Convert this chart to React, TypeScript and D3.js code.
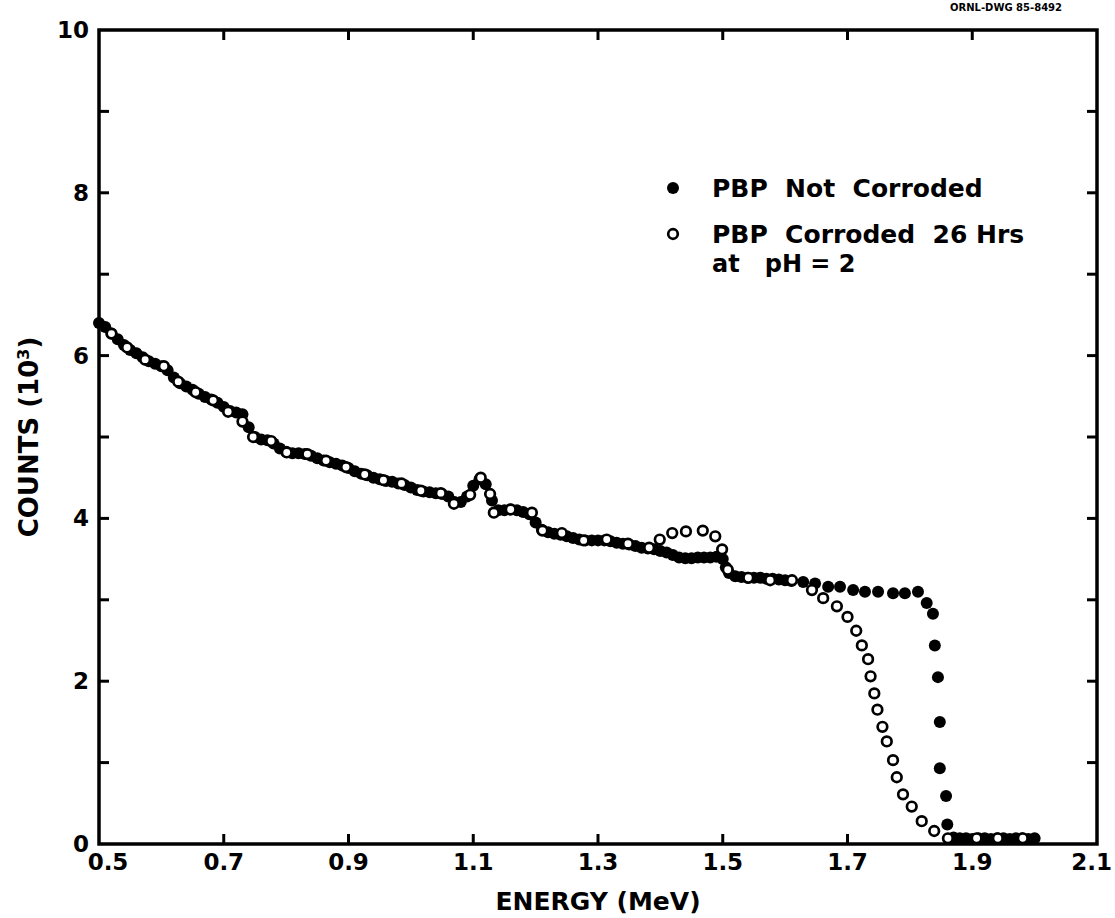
import React from "react";
import * as d3 from "d3";

// ---- data ----
const xTickValues = [0.5, 0.7, 0.9, 1.1, 1.3, 1.5, 1.7, 1.9, 2.1];
const xTickLabels = ["0.5", "0.7", "0.9", "1.1", "1.3", "1.5", "1.7", "1.9", "2.1"];
const yTickValues = [0, 1, 2, 3, 4, 5, 6, 7, 8, 9, 10];
const yTickLabels = ["0", "", "2", "", "4", "", "6", "", "8", "", "10"];

// PBP Not Corroded (filled circles): [energy MeV, counts 10^3]
const notCorroded: [number, number][] = [
  [0.50, 6.40], [0.51, 6.35], [0.52, 6.27], [0.53, 6.20], [0.54, 6.13], [0.55, 6.07],
  [0.56, 6.03], [0.57, 5.98], [0.58, 5.93], [0.59, 5.90], [0.60, 5.87], [0.61, 5.82],
  [0.62, 5.73], [0.63, 5.66], [0.64, 5.62], [0.65, 5.58], [0.66, 5.53], [0.67, 5.49],
  [0.68, 5.46], [0.69, 5.42], [0.70, 5.37], [0.71, 5.32], [0.72, 5.30], [0.73, 5.28],
  [0.74, 5.12], [0.75, 5.00], [0.76, 4.97], [0.77, 4.96], [0.78, 4.92], [0.79, 4.86],
  [0.80, 4.82], [0.81, 4.80], [0.82, 4.80], [0.83, 4.79], [0.84, 4.77], [0.85, 4.74],
  [0.86, 4.71], [0.87, 4.69], [0.88, 4.67], [0.89, 4.65], [0.90, 4.62], [0.91, 4.58],
  [0.92, 4.55], [0.93, 4.53], [0.94, 4.50], [0.95, 4.48], [0.96, 4.46], [0.97, 4.45],
  [0.98, 4.43], [0.99, 4.41], [1.00, 4.38], [1.01, 4.35], [1.02, 4.33], [1.03, 4.32],
  [1.04, 4.31], [1.05, 4.30], [1.06, 4.27], [1.07, 4.20], [1.08, 4.20], [1.09, 4.27],
  [1.10, 4.40], [1.11, 4.48], [1.12, 4.42], [1.13, 4.22], [1.14, 4.10], [1.15, 4.10],
  [1.16, 4.11], [1.17, 4.10], [1.18, 4.08], [1.19, 4.05], [1.20, 3.95], [1.21, 3.86],
  [1.22, 3.83], [1.23, 3.81], [1.24, 3.80], [1.25, 3.78], [1.26, 3.76], [1.27, 3.74],
  [1.28, 3.73], [1.29, 3.73], [1.30, 3.73], [1.31, 3.73], [1.32, 3.72], [1.33, 3.70],
  [1.34, 3.69], [1.35, 3.68], [1.36, 3.66], [1.37, 3.64], [1.38, 3.63], [1.39, 3.62],
  [1.40, 3.60], [1.41, 3.58], [1.42, 3.55], [1.43, 3.52], [1.44, 3.51], [1.45, 3.51],
  [1.46, 3.52], [1.47, 3.52], [1.48, 3.52], [1.49, 3.53], [1.50, 3.50], [1.505, 3.40],
  [1.51, 3.33], [1.52, 3.29], [1.53, 3.28], [1.54, 3.27], [1.55, 3.27], [1.56, 3.27],
  [1.57, 3.26], [1.58, 3.26], [1.59, 3.25], [1.60, 3.24], [1.61, 3.23],
  [1.629, 3.22], [1.648, 3.20], [1.669, 3.16], [1.688, 3.16], [1.709, 3.12],
  [1.728, 3.10], [1.749, 3.10], [1.773, 3.08], [1.792, 3.08], [1.813, 3.10],
  [1.827, 2.96], [1.837, 2.83], [1.840, 2.44], [1.845, 2.05], [1.848, 1.50],
  [1.848, 0.93], [1.858, 0.59], [1.860, 0.24],
  [1.87, 0.08], [1.88, 0.07], [1.89, 0.07], [1.90, 0.06], [1.91, 0.07], [1.92, 0.07],
  [1.93, 0.06], [1.94, 0.07], [1.95, 0.07], [1.96, 0.06], [1.97, 0.07], [1.98, 0.07],
  [1.99, 0.06], [2.00, 0.07],
];

// PBP Corroded 26 Hrs at pH = 2 (open circles)
const corroded: [number, number][] = [
  [0.520, 6.27], [0.545, 6.10], [0.574, 5.95], [0.604, 5.87], [0.627, 5.68], [0.655, 5.55],
  [0.683, 5.45], [0.707, 5.31], [0.730, 5.19], [0.747, 5.00], [0.776, 4.95], [0.801, 4.81],
  [0.834, 4.79], [0.864, 4.71], [0.896, 4.63], [0.926, 4.54], [0.956, 4.47], [0.985, 4.43],
  [1.016, 4.34], [1.048, 4.31], [1.069, 4.18], [1.095, 4.29], [1.112, 4.50], [1.127, 4.30],
  [1.133, 4.07], [1.160, 4.11], [1.194, 4.07], [1.211, 3.85], [1.242, 3.82], [1.277, 3.73],
  [1.314, 3.74], [1.348, 3.69], [1.382, 3.64], [1.399, 3.74], [1.419, 3.82], [1.441, 3.84],
  [1.468, 3.85], [1.488, 3.78], [1.499, 3.62], [1.508, 3.37], [1.541, 3.27], [1.576, 3.24],
  [1.611, 3.24], [1.643, 3.12], [1.661, 3.02], [1.683, 2.92], [1.700, 2.79], [1.714, 2.62],
  [1.723, 2.44], [1.733, 2.27], [1.737, 2.06], [1.743, 1.85], [1.748, 1.65], [1.756, 1.44],
  [1.763, 1.26], [1.773, 1.03], [1.779, 0.82], [1.789, 0.61], [1.803, 0.46], [1.819, 0.28],
  [1.839, 0.16], [1.861, 0.07], [1.907, 0.07], [1.941, 0.07], [1.981, 0.07],
];

const legendLine1 = "PBP  Not  Corroded";
const legendLine2 = "PBP  Corroded  26 Hrs";
const legendLine3 = "at   pH = 2";
const drawingNumber = "ORNL-DWG 85-8492";

const FONT = "'DejaVu Sans', sans-serif";

export default function App() {
  const W = 1115;
  const H = 918;
  const x = d3.scaleLinear().domain([0.5, 2.1]).range([99, 1097]);
  const y = d3.scaleLinear().domain([0, 10]).range([844, 30]);
  const [x0, x1] = x.range();
  const [yb, yt] = y.range();
  const tickLen = 10;
  const axisW = 3.5;
  const last = xTickValues.length - 1;

  return (
    <svg
      width={W}
      height={H}
      viewBox={`0 0 ${W} ${H}`}
      style={{ position: "absolute", left: 0, top: 0, background: "#fff" }}
      fontFamily={FONT}
    >
      <rect x={0} y={0} width={W} height={H} fill="#fff" />
      <text x={950} y={11} fontSize={10} fontWeight="bold" fill="#000">
        {drawingNumber}
      </text>

      {/* frame */}
      <rect
        x={x0}
        y={yt}
        width={x1 - x0}
        height={yb - yt}
        fill="none"
        stroke="#000"
        strokeWidth={axisW}
      />

      {/* x ticks bottom & top */}
      {xTickValues.slice(1, -1).map((v) => (
        <g key={"xt" + v}>
          <line x1={x(v)} x2={x(v)} y1={yb} y2={yb - tickLen} stroke="#000" strokeWidth={3} />
          <line x1={x(v)} x2={x(v)} y1={yt} y2={yt + tickLen} stroke="#000" strokeWidth={3} />
        </g>
      ))}
      {xTickValues.map((v, i) => (
        <text
          key={"xl" + v}
          x={i === last ? W - 3 : x(v) + (i === 0 ? 9 : 0)}
          y={yb + 26}
          fontSize={23}
          fontWeight="bold"
          textAnchor={i === last ? "end" : "middle"}
          fill="#000"
        >
          {xTickLabels[i]}
        </text>
      ))}

      {/* y ticks left & right */}
      {yTickValues.slice(1, -1).map((v) => (
        <g key={"yt" + v}>
          <line x1={x0} x2={x0 + tickLen} y1={y(v)} y2={y(v)} stroke="#000" strokeWidth={3} />
          <line x1={x1} x2={x1 - tickLen} y1={y(v)} y2={y(v)} stroke="#000" strokeWidth={3} />
        </g>
      ))}
      {yTickValues.map((v, i) =>
        yTickLabels[i] ? (
          <text
            key={"yl" + v}
            x={x0 - 10}
            y={y(v) + 8}
            fontSize={23}
            fontWeight="bold"
            textAnchor="end"
            fill="#000"
          >
            {yTickLabels[i]}
          </text>
        ) : null
      )}

      {/* axis titles */}
      <text
        x={(x0 + x1) / 2}
        y={910}
        fontSize={25}
        fontWeight="bold"
        textAnchor="middle"
        fill="#000"
      >
        ENERGY (MeV)
      </text>
      <text
        transform={`translate(38, ${(yb + yt) / 2}) rotate(-90)`}
        fontSize={26}
        fontWeight="bold"
        textAnchor="middle"
        fill="#000"
      >
        COUNTS (10
        <tspan baselineShift="super" fontSize={16}>3</tspan>
        )
      </text>

      {/* filled series */}
      {notCorroded.map(([e, c], i) => (
        <circle key={"f" + i} cx={x(e)} cy={y(c)} r={6} fill="#000" />
      ))}
      {/* open series */}
      {corroded.map(([e, c], i) => (
        <circle
          key={"o" + i}
          cx={x(e)}
          cy={y(c)}
          r={4.8}
          fill="#fff"
          stroke="#000"
          strokeWidth={2.7}
        />
      ))}

      {/* legend */}
      <circle cx={673} cy={188} r={6} fill="#000" />
      <text x={712} y={197} fontSize={25} fontWeight="bold" fill="#000" style={{ whiteSpace: "pre" }}>
        {legendLine1}
      </text>
      <circle cx={673} cy={234} r={4.8} fill="#fff" stroke="#000" strokeWidth={2.7} />
      <text x={712} y={243} fontSize={25} fontWeight="bold" fill="#000" style={{ whiteSpace: "pre" }}>
        {legendLine2}
      </text>
      <text x={712} y={272} fontSize={24} fontWeight="bold" fill="#000" style={{ whiteSpace: "pre" }}>
        {legendLine3}
      </text>
    </svg>
  );
}
